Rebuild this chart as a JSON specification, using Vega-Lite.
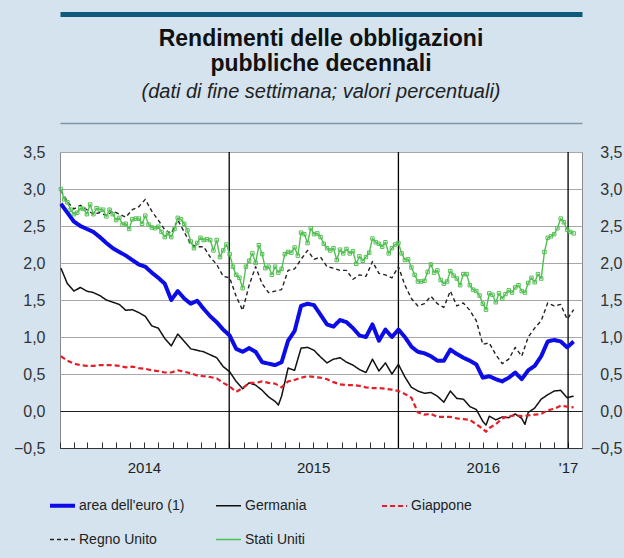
{
  "$schema": "https://vega.github.io/schema/vega-lite/v6.json",
  "width": 522,
  "height": 296,
  "autosize": "none",
  "padding": {"left": 60, "top": 152, "right": 42, "bottom": 110},
  "background": "#d4e3ee",
  "config": {
    "font": "Liberation Sans",
    "view": {"fill": "#ffffff", "stroke": "#8a8a8a", "strokeWidth": 1}
  },
  "title": {
    "text": ["Rendimenti delle obbligazioni", "pubbliche decennali"],
    "subtitle": "(dati di fine settimana; valori percentuali)",
    "anchor": "middle",
    "frame": "group",
    "fontSize": 23,
    "fontWeight": "bold",
    "color": "#111111",
    "lineHeight": 25,
    "subtitleFontSize": 20,
    "subtitleFontStyle": "italic",
    "subtitleColor": "#222222",
    "subtitlePadding": 6,
    "offset": -88
  },
  "datasets": {
    "yrs": [{"d": "2015-01-01"}, {"d": "2016-01-01"}, {"d": "2017-01-01"}]
  },
  "data": {"values": [
    {"s":"de","d":"2014-01-03","v":1.93},{"s":"de","d":"2014-01-17","v":1.72},{"s":"de","d":"2014-01-31","v":1.62},{"s":"de","d":"2014-02-14","v":1.67},{"s":"de","d":"2014-02-28","v":1.62},{"s":"de","d":"2014-03-14","v":1.60},{"s":"de","d":"2014-03-28","v":1.56},{"s":"de","d":"2014-04-11","v":1.50},{"s":"de","d":"2014-04-25","v":1.47},{"s":"de","d":"2014-05-09","v":1.44},{"s":"de","d":"2014-05-23","v":1.36},{"s":"de","d":"2014-06-06","v":1.37},{"s":"de","d":"2014-06-20","v":1.33},{"s":"de","d":"2014-07-04","v":1.28},{"s":"de","d":"2014-07-18","v":1.15},{"s":"de","d":"2014-08-01","v":1.12},{"s":"de","d":"2014-08-15","v":0.98},{"s":"de","d":"2014-08-29","v":0.88},{"s":"de","d":"2014-09-12","v":1.04},{"s":"de","d":"2014-09-26","v":0.94},{"s":"de","d":"2014-10-10","v":0.84},{"s":"de","d":"2014-10-24","v":0.82},{"s":"de","d":"2014-11-07","v":0.80},{"s":"de","d":"2014-11-21","v":0.76},{"s":"de","d":"2014-12-05","v":0.72},{"s":"de","d":"2014-12-19","v":0.60},
    {"s":"de","d":"2015-01-02","v":0.53},{"s":"de","d":"2015-01-16","v":0.40},{"s":"de","d":"2015-01-30","v":0.30},{"s":"de","d":"2015-02-13","v":0.38},{"s":"de","d":"2015-02-27","v":0.35},{"s":"de","d":"2015-03-13","v":0.28},{"s":"de","d":"2015-03-27","v":0.19},{"s":"de","d":"2015-04-10","v":0.13},{"s":"de","d":"2015-04-17","v":0.08},{"s":"de","d":"2015-04-24","v":0.20},{"s":"de","d":"2015-05-08","v":0.58},{"s":"de","d":"2015-05-22","v":0.55},{"s":"de","d":"2015-06-05","v":0.85},{"s":"de","d":"2015-06-19","v":0.86},{"s":"de","d":"2015-07-03","v":0.82},{"s":"de","d":"2015-07-17","v":0.73},{"s":"de","d":"2015-07-31","v":0.65},{"s":"de","d":"2015-08-14","v":0.70},{"s":"de","d":"2015-08-28","v":0.72},{"s":"de","d":"2015-09-11","v":0.66},{"s":"de","d":"2015-09-25","v":0.62},{"s":"de","d":"2015-10-09","v":0.56},{"s":"de","d":"2015-10-23","v":0.52},{"s":"de","d":"2015-11-06","v":0.70},{"s":"de","d":"2015-11-20","v":0.54},{"s":"de","d":"2015-12-04","v":0.65},{"s":"de","d":"2015-12-18","v":0.50},
    {"s":"de","d":"2016-01-01","v":0.63},{"s":"de","d":"2016-01-15","v":0.46},{"s":"de","d":"2016-01-29","v":0.32},{"s":"de","d":"2016-02-12","v":0.27},{"s":"de","d":"2016-02-26","v":0.24},{"s":"de","d":"2016-03-11","v":0.25},{"s":"de","d":"2016-03-25","v":0.20},{"s":"de","d":"2016-04-08","v":0.12},{"s":"de","d":"2016-04-22","v":0.27},{"s":"de","d":"2016-05-06","v":0.17},{"s":"de","d":"2016-05-20","v":0.16},{"s":"de","d":"2016-06-03","v":0.06},{"s":"de","d":"2016-06-17","v":0.02},{"s":"de","d":"2016-07-01","v":-0.14},{"s":"de","d":"2016-07-08","v":-0.19},{"s":"de","d":"2016-07-15","v":-0.07},{"s":"de","d":"2016-07-29","v":-0.12},{"s":"de","d":"2016-08-12","v":-0.08},{"s":"de","d":"2016-08-26","v":-0.09},{"s":"de","d":"2016-09-09","v":-0.04},{"s":"de","d":"2016-09-23","v":-0.10},{"s":"de","d":"2016-09-30","v":-0.18},{"s":"de","d":"2016-10-07","v":-0.02},{"s":"de","d":"2016-10-21","v":0.04},{"s":"de","d":"2016-11-04","v":0.16},{"s":"de","d":"2016-11-18","v":0.22},{"s":"de","d":"2016-12-02","v":0.27},{"s":"de","d":"2016-12-16","v":0.28},{"s":"de","d":"2016-12-30","v":0.18},{"s":"de","d":"2017-01-13","v":0.20},

    {"s":"jp","d":"2014-01-03","v":0.74},{"s":"jp","d":"2014-01-17","v":0.68},{"s":"jp","d":"2014-01-31","v":0.64},{"s":"jp","d":"2014-02-14","v":0.62},{"s":"jp","d":"2014-02-28","v":0.61},{"s":"jp","d":"2014-03-14","v":0.61},{"s":"jp","d":"2014-03-28","v":0.62},{"s":"jp","d":"2014-04-11","v":0.62},{"s":"jp","d":"2014-04-25","v":0.62},{"s":"jp","d":"2014-05-09","v":0.61},{"s":"jp","d":"2014-05-23","v":0.59},{"s":"jp","d":"2014-06-06","v":0.60},{"s":"jp","d":"2014-06-20","v":0.58},{"s":"jp","d":"2014-07-04","v":0.57},{"s":"jp","d":"2014-07-18","v":0.55},{"s":"jp","d":"2014-08-01","v":0.54},{"s":"jp","d":"2014-08-15","v":0.52},{"s":"jp","d":"2014-08-29","v":0.52},{"s":"jp","d":"2014-09-12","v":0.55},{"s":"jp","d":"2014-09-26","v":0.53},{"s":"jp","d":"2014-10-10","v":0.51},{"s":"jp","d":"2014-10-24","v":0.48},{"s":"jp","d":"2014-11-07","v":0.47},{"s":"jp","d":"2014-11-21","v":0.46},{"s":"jp","d":"2014-12-05","v":0.44},{"s":"jp","d":"2014-12-19","v":0.38},
    {"s":"jp","d":"2015-01-02","v":0.33},{"s":"jp","d":"2015-01-16","v":0.26},{"s":"jp","d":"2015-01-30","v":0.31},{"s":"jp","d":"2015-02-13","v":0.38},{"s":"jp","d":"2015-02-27","v":0.38},{"s":"jp","d":"2015-03-13","v":0.40},{"s":"jp","d":"2015-03-27","v":0.38},{"s":"jp","d":"2015-04-10","v":0.37},{"s":"jp","d":"2015-04-24","v":0.32},{"s":"jp","d":"2015-05-08","v":0.40},{"s":"jp","d":"2015-05-22","v":0.42},{"s":"jp","d":"2015-06-05","v":0.45},{"s":"jp","d":"2015-06-19","v":0.47},{"s":"jp","d":"2015-07-03","v":0.46},{"s":"jp","d":"2015-07-17","v":0.45},{"s":"jp","d":"2015-07-31","v":0.43},{"s":"jp","d":"2015-08-14","v":0.39},{"s":"jp","d":"2015-08-28","v":0.36},{"s":"jp","d":"2015-09-11","v":0.35},{"s":"jp","d":"2015-09-25","v":0.35},{"s":"jp","d":"2015-10-09","v":0.34},{"s":"jp","d":"2015-10-23","v":0.32},{"s":"jp","d":"2015-11-06","v":0.31},{"s":"jp","d":"2015-11-20","v":0.31},{"s":"jp","d":"2015-12-04","v":0.30},{"s":"jp","d":"2015-12-18","v":0.29},
    {"s":"jp","d":"2016-01-01","v":0.27},{"s":"jp","d":"2016-01-15","v":0.23},{"s":"jp","d":"2016-01-29","v":0.18},{"s":"jp","d":"2016-02-12","v":-0.02},{"s":"jp","d":"2016-02-26","v":-0.05},{"s":"jp","d":"2016-03-11","v":-0.04},{"s":"jp","d":"2016-03-25","v":-0.08},{"s":"jp","d":"2016-04-08","v":-0.08},{"s":"jp","d":"2016-04-22","v":-0.08},{"s":"jp","d":"2016-05-06","v":-0.10},{"s":"jp","d":"2016-05-20","v":-0.11},{"s":"jp","d":"2016-06-03","v":-0.12},{"s":"jp","d":"2016-06-17","v":-0.18},{"s":"jp","d":"2016-07-01","v":-0.24},{"s":"jp","d":"2016-07-08","v":-0.28},{"s":"jp","d":"2016-07-15","v":-0.23},{"s":"jp","d":"2016-07-29","v":-0.18},{"s":"jp","d":"2016-08-12","v":-0.10},{"s":"jp","d":"2016-08-26","v":-0.07},{"s":"jp","d":"2016-09-09","v":-0.06},{"s":"jp","d":"2016-09-23","v":-0.07},{"s":"jp","d":"2016-10-07","v":-0.06},{"s":"jp","d":"2016-10-21","v":-0.05},{"s":"jp","d":"2016-11-04","v":-0.04},{"s":"jp","d":"2016-11-18","v":0.01},{"s":"jp","d":"2016-12-02","v":0.03},{"s":"jp","d":"2016-12-16","v":0.07},{"s":"jp","d":"2016-12-30","v":0.06},{"s":"jp","d":"2017-01-13","v":0.05},

    {"s":"uk","d":"2014-01-03","v":2.98},{"s":"uk","d":"2014-01-17","v":2.83},{"s":"uk","d":"2014-01-31","v":2.73},{"s":"uk","d":"2014-02-14","v":2.78},{"s":"uk","d":"2014-02-28","v":2.72},{"s":"uk","d":"2014-03-14","v":2.66},{"s":"uk","d":"2014-03-28","v":2.68},{"s":"uk","d":"2014-04-11","v":2.64},{"s":"uk","d":"2014-04-25","v":2.70},{"s":"uk","d":"2014-05-09","v":2.66},{"s":"uk","d":"2014-05-23","v":2.62},{"s":"uk","d":"2014-06-06","v":2.72},{"s":"uk","d":"2014-06-20","v":2.76},{"s":"uk","d":"2014-07-04","v":2.86},{"s":"uk","d":"2014-07-18","v":2.70},{"s":"uk","d":"2014-08-01","v":2.58},{"s":"uk","d":"2014-08-15","v":2.45},{"s":"uk","d":"2014-08-29","v":2.40},{"s":"uk","d":"2014-09-12","v":2.58},{"s":"uk","d":"2014-09-26","v":2.42},{"s":"uk","d":"2014-10-10","v":2.25},{"s":"uk","d":"2014-10-24","v":2.22},{"s":"uk","d":"2014-11-07","v":2.22},{"s":"uk","d":"2014-11-21","v":2.08},{"s":"uk","d":"2014-12-05","v":1.98},{"s":"uk","d":"2014-12-19","v":1.82},
    {"s":"uk","d":"2015-01-02","v":1.80},{"s":"uk","d":"2015-01-16","v":1.55},{"s":"uk","d":"2015-01-30","v":1.36},{"s":"uk","d":"2015-02-13","v":1.70},{"s":"uk","d":"2015-02-27","v":1.95},{"s":"uk","d":"2015-03-13","v":1.72},{"s":"uk","d":"2015-03-27","v":1.60},{"s":"uk","d":"2015-04-10","v":1.62},{"s":"uk","d":"2015-04-24","v":1.64},{"s":"uk","d":"2015-05-08","v":1.90},{"s":"uk","d":"2015-05-22","v":1.92},{"s":"uk","d":"2015-06-05","v":2.05},{"s":"uk","d":"2015-06-19","v":2.17},{"s":"uk","d":"2015-07-03","v":2.05},{"s":"uk","d":"2015-07-17","v":2.08},{"s":"uk","d":"2015-07-31","v":1.95},{"s":"uk","d":"2015-08-14","v":1.93},{"s":"uk","d":"2015-08-28","v":1.90},{"s":"uk","d":"2015-09-11","v":1.90},{"s":"uk","d":"2015-09-25","v":1.78},{"s":"uk","d":"2015-10-09","v":1.84},{"s":"uk","d":"2015-10-23","v":1.82},{"s":"uk","d":"2015-11-06","v":2.02},{"s":"uk","d":"2015-11-20","v":1.86},{"s":"uk","d":"2015-12-04","v":1.84},{"s":"uk","d":"2015-12-18","v":1.80},
    {"s":"uk","d":"2016-01-01","v":1.95},{"s":"uk","d":"2016-01-15","v":1.70},{"s":"uk","d":"2016-01-29","v":1.52},{"s":"uk","d":"2016-02-12","v":1.42},{"s":"uk","d":"2016-02-26","v":1.45},{"s":"uk","d":"2016-03-11","v":1.55},{"s":"uk","d":"2016-03-25","v":1.45},{"s":"uk","d":"2016-04-08","v":1.40},{"s":"uk","d":"2016-04-22","v":1.62},{"s":"uk","d":"2016-05-06","v":1.42},{"s":"uk","d":"2016-05-20","v":1.46},{"s":"uk","d":"2016-06-03","v":1.36},{"s":"uk","d":"2016-06-17","v":1.22},{"s":"uk","d":"2016-07-01","v":0.90},{"s":"uk","d":"2016-07-15","v":0.92},{"s":"uk","d":"2016-07-29","v":0.76},{"s":"uk","d":"2016-08-12","v":0.64},{"s":"uk","d":"2016-08-26","v":0.70},{"s":"uk","d":"2016-09-09","v":0.86},{"s":"uk","d":"2016-09-23","v":0.74},{"s":"uk","d":"2016-10-07","v":1.00},{"s":"uk","d":"2016-10-21","v":1.12},{"s":"uk","d":"2016-11-04","v":1.22},{"s":"uk","d":"2016-11-18","v":1.46},{"s":"uk","d":"2016-12-02","v":1.42},{"s":"uk","d":"2016-12-16","v":1.44},{"s":"uk","d":"2016-12-30","v":1.24},{"s":"uk","d":"2017-01-13","v":1.37},

    {"s":"ea","d":"2014-01-03","v":2.80},{"s":"ea","d":"2014-01-17","v":2.68},{"s":"ea","d":"2014-01-31","v":2.56},{"s":"ea","d":"2014-02-14","v":2.50},{"s":"ea","d":"2014-02-28","v":2.46},{"s":"ea","d":"2014-03-14","v":2.42},{"s":"ea","d":"2014-03-28","v":2.35},{"s":"ea","d":"2014-04-11","v":2.27},{"s":"ea","d":"2014-04-25","v":2.20},{"s":"ea","d":"2014-05-09","v":2.15},{"s":"ea","d":"2014-05-23","v":2.10},{"s":"ea","d":"2014-06-06","v":2.04},{"s":"ea","d":"2014-06-20","v":1.98},{"s":"ea","d":"2014-07-04","v":1.95},{"s":"ea","d":"2014-07-18","v":1.87},{"s":"ea","d":"2014-08-01","v":1.80},{"s":"ea","d":"2014-08-15","v":1.72},{"s":"ea","d":"2014-08-29","v":1.50},{"s":"ea","d":"2014-09-12","v":1.62},{"s":"ea","d":"2014-09-26","v":1.52},{"s":"ea","d":"2014-10-10","v":1.45},{"s":"ea","d":"2014-10-24","v":1.49},{"s":"ea","d":"2014-11-07","v":1.38},{"s":"ea","d":"2014-11-21","v":1.28},{"s":"ea","d":"2014-12-05","v":1.20},{"s":"ea","d":"2014-12-19","v":1.10},
    {"s":"ea","d":"2015-01-02","v":1.02},{"s":"ea","d":"2015-01-16","v":0.84},{"s":"ea","d":"2015-01-30","v":0.80},{"s":"ea","d":"2015-02-13","v":0.85},{"s":"ea","d":"2015-02-27","v":0.80},{"s":"ea","d":"2015-03-13","v":0.66},{"s":"ea","d":"2015-03-27","v":0.64},{"s":"ea","d":"2015-04-10","v":0.62},{"s":"ea","d":"2015-04-24","v":0.66},{"s":"ea","d":"2015-05-08","v":0.95},{"s":"ea","d":"2015-05-22","v":1.08},{"s":"ea","d":"2015-06-05","v":1.42},{"s":"ea","d":"2015-06-19","v":1.45},{"s":"ea","d":"2015-07-03","v":1.43},{"s":"ea","d":"2015-07-17","v":1.30},{"s":"ea","d":"2015-07-31","v":1.17},{"s":"ea","d":"2015-08-14","v":1.14},{"s":"ea","d":"2015-08-28","v":1.23},{"s":"ea","d":"2015-09-11","v":1.20},{"s":"ea","d":"2015-09-25","v":1.12},{"s":"ea","d":"2015-10-09","v":1.02},{"s":"ea","d":"2015-10-23","v":1.00},{"s":"ea","d":"2015-11-06","v":1.17},{"s":"ea","d":"2015-11-20","v":0.95},{"s":"ea","d":"2015-12-04","v":1.10},{"s":"ea","d":"2015-12-18","v":1.00},
    {"s":"ea","d":"2016-01-01","v":1.10},{"s":"ea","d":"2016-01-15","v":1.00},{"s":"ea","d":"2016-01-29","v":0.87},{"s":"ea","d":"2016-02-12","v":0.80},{"s":"ea","d":"2016-02-26","v":0.78},{"s":"ea","d":"2016-03-11","v":0.74},{"s":"ea","d":"2016-03-25","v":0.68},{"s":"ea","d":"2016-04-08","v":0.68},{"s":"ea","d":"2016-04-22","v":0.83},{"s":"ea","d":"2016-05-06","v":0.77},{"s":"ea","d":"2016-05-20","v":0.72},{"s":"ea","d":"2016-06-03","v":0.68},{"s":"ea","d":"2016-06-17","v":0.63},{"s":"ea","d":"2016-07-01","v":0.45},{"s":"ea","d":"2016-07-15","v":0.47},{"s":"ea","d":"2016-07-29","v":0.43},{"s":"ea","d":"2016-08-12","v":0.40},{"s":"ea","d":"2016-08-26","v":0.45},{"s":"ea","d":"2016-09-09","v":0.52},{"s":"ea","d":"2016-09-23","v":0.43},{"s":"ea","d":"2016-10-07","v":0.55},{"s":"ea","d":"2016-10-21","v":0.61},{"s":"ea","d":"2016-11-04","v":0.74},{"s":"ea","d":"2016-11-18","v":0.94},{"s":"ea","d":"2016-12-02","v":0.96},{"s":"ea","d":"2016-12-16","v":0.94},{"s":"ea","d":"2016-12-30","v":0.86},{"s":"ea","d":"2017-01-13","v":0.94},

    {"s":"us","d":"2014-01-03","v":3.00},{"s":"us","d":"2014-01-10","v":2.86},{"s":"us","d":"2014-01-17","v":2.82},{"s":"us","d":"2014-01-24","v":2.72},{"s":"us","d":"2014-01-31","v":2.66},{"s":"us","d":"2014-02-07","v":2.68},{"s":"us","d":"2014-02-14","v":2.74},{"s":"us","d":"2014-02-21","v":2.73},{"s":"us","d":"2014-02-28","v":2.66},{"s":"us","d":"2014-03-07","v":2.79},{"s":"us","d":"2014-03-14","v":2.66},{"s":"us","d":"2014-03-21","v":2.74},{"s":"us","d":"2014-03-28","v":2.72},{"s":"us","d":"2014-04-04","v":2.72},{"s":"us","d":"2014-04-11","v":2.63},{"s":"us","d":"2014-04-18","v":2.72},{"s":"us","d":"2014-04-25","v":2.66},{"s":"us","d":"2014-05-02","v":2.58},{"s":"us","d":"2014-05-09","v":2.61},{"s":"us","d":"2014-05-16","v":2.52},{"s":"us","d":"2014-05-23","v":2.53},{"s":"us","d":"2014-05-30","v":2.46},{"s":"us","d":"2014-06-06","v":2.59},{"s":"us","d":"2014-06-13","v":2.60},{"s":"us","d":"2014-06-20","v":2.60},{"s":"us","d":"2014-06-27","v":2.53},{"s":"us","d":"2014-07-04","v":2.64},{"s":"us","d":"2014-07-11","v":2.52},{"s":"us","d":"2014-07-18","v":2.48},{"s":"us","d":"2014-07-25","v":2.47},{"s":"us","d":"2014-08-01","v":2.49},{"s":"us","d":"2014-08-08","v":2.42},{"s":"us","d":"2014-08-15","v":2.35},{"s":"us","d":"2014-08-22","v":2.40},{"s":"us","d":"2014-08-29","v":2.35},{"s":"us","d":"2014-09-05","v":2.46},{"s":"us","d":"2014-09-12","v":2.61},{"s":"us","d":"2014-09-19","v":2.59},{"s":"us","d":"2014-09-26","v":2.53},{"s":"us","d":"2014-10-03","v":2.44},{"s":"us","d":"2014-10-10","v":2.29},{"s":"us","d":"2014-10-17","v":2.20},{"s":"us","d":"2014-10-24","v":2.27},{"s":"us","d":"2014-10-31","v":2.34},{"s":"us","d":"2014-11-07","v":2.31},{"s":"us","d":"2014-11-14","v":2.32},{"s":"us","d":"2014-11-21","v":2.31},{"s":"us","d":"2014-11-28","v":2.17},{"s":"us","d":"2014-12-05","v":2.31},{"s":"us","d":"2014-12-12","v":2.08},{"s":"us","d":"2014-12-19","v":2.17},{"s":"us","d":"2014-12-26","v":2.25},
    {"s":"us","d":"2015-01-02","v":2.12},{"s":"us","d":"2015-01-09","v":1.95},{"s":"us","d":"2015-01-16","v":1.84},{"s":"us","d":"2015-01-23","v":1.80},{"s":"us","d":"2015-01-30","v":1.66},{"s":"us","d":"2015-02-06","v":1.95},{"s":"us","d":"2015-02-13","v":2.03},{"s":"us","d":"2015-02-20","v":2.13},{"s":"us","d":"2015-02-27","v":2.00},{"s":"us","d":"2015-03-06","v":2.24},{"s":"us","d":"2015-03-13","v":2.12},{"s":"us","d":"2015-03-20","v":1.93},{"s":"us","d":"2015-03-27","v":1.95},{"s":"us","d":"2015-04-03","v":1.84},{"s":"us","d":"2015-04-10","v":1.95},{"s":"us","d":"2015-04-17","v":1.87},{"s":"us","d":"2015-04-24","v":1.92},{"s":"us","d":"2015-05-01","v":2.12},{"s":"us","d":"2015-05-08","v":2.15},{"s":"us","d":"2015-05-15","v":2.14},{"s":"us","d":"2015-05-22","v":2.21},{"s":"us","d":"2015-05-29","v":2.10},{"s":"us","d":"2015-06-05","v":2.41},{"s":"us","d":"2015-06-12","v":2.39},{"s":"us","d":"2015-06-19","v":2.27},{"s":"us","d":"2015-06-26","v":2.47},{"s":"us","d":"2015-07-03","v":2.39},{"s":"us","d":"2015-07-10","v":2.40},{"s":"us","d":"2015-07-17","v":2.35},{"s":"us","d":"2015-07-24","v":2.26},{"s":"us","d":"2015-07-31","v":2.20},{"s":"us","d":"2015-08-07","v":2.17},{"s":"us","d":"2015-08-14","v":2.20},{"s":"us","d":"2015-08-21","v":2.04},{"s":"us","d":"2015-08-28","v":2.18},{"s":"us","d":"2015-09-04","v":2.13},{"s":"us","d":"2015-09-11","v":2.19},{"s":"us","d":"2015-09-18","v":2.13},{"s":"us","d":"2015-09-25","v":2.16},{"s":"us","d":"2015-10-02","v":1.99},{"s":"us","d":"2015-10-09","v":2.09},{"s":"us","d":"2015-10-16","v":2.03},{"s":"us","d":"2015-10-23","v":2.08},{"s":"us","d":"2015-10-30","v":2.14},{"s":"us","d":"2015-11-06","v":2.33},{"s":"us","d":"2015-11-13","v":2.28},{"s":"us","d":"2015-11-20","v":2.26},{"s":"us","d":"2015-11-27","v":2.22},{"s":"us","d":"2015-12-04","v":2.28},{"s":"us","d":"2015-12-11","v":2.13},{"s":"us","d":"2015-12-18","v":2.20},{"s":"us","d":"2015-12-25","v":2.25},
    {"s":"us","d":"2016-01-01","v":2.27},{"s":"us","d":"2016-01-08","v":2.13},{"s":"us","d":"2016-01-15","v":2.04},{"s":"us","d":"2016-01-22","v":2.05},{"s":"us","d":"2016-01-29","v":1.94},{"s":"us","d":"2016-02-05","v":1.84},{"s":"us","d":"2016-02-12","v":1.75},{"s":"us","d":"2016-02-19","v":1.75},{"s":"us","d":"2016-02-26","v":1.76},{"s":"us","d":"2016-03-04","v":1.88},{"s":"us","d":"2016-03-11","v":1.98},{"s":"us","d":"2016-03-18","v":1.87},{"s":"us","d":"2016-03-25","v":1.90},{"s":"us","d":"2016-04-01","v":1.77},{"s":"us","d":"2016-04-08","v":1.72},{"s":"us","d":"2016-04-15","v":1.75},{"s":"us","d":"2016-04-22","v":1.89},{"s":"us","d":"2016-04-29","v":1.83},{"s":"us","d":"2016-05-06","v":1.79},{"s":"us","d":"2016-05-13","v":1.70},{"s":"us","d":"2016-05-20","v":1.85},{"s":"us","d":"2016-05-27","v":1.85},{"s":"us","d":"2016-06-03","v":1.70},{"s":"us","d":"2016-06-10","v":1.64},{"s":"us","d":"2016-06-17","v":1.62},{"s":"us","d":"2016-06-24","v":1.56},{"s":"us","d":"2016-07-01","v":1.45},{"s":"us","d":"2016-07-08","v":1.37},{"s":"us","d":"2016-07-15","v":1.59},{"s":"us","d":"2016-07-22","v":1.57},{"s":"us","d":"2016-07-29","v":1.47},{"s":"us","d":"2016-08-05","v":1.59},{"s":"us","d":"2016-08-12","v":1.52},{"s":"us","d":"2016-08-19","v":1.58},{"s":"us","d":"2016-08-26","v":1.63},{"s":"us","d":"2016-09-02","v":1.60},{"s":"us","d":"2016-09-09","v":1.67},{"s":"us","d":"2016-09-16","v":1.70},{"s":"us","d":"2016-09-23","v":1.62},{"s":"us","d":"2016-09-30","v":1.60},{"s":"us","d":"2016-10-07","v":1.73},{"s":"us","d":"2016-10-14","v":1.80},{"s":"us","d":"2016-10-21","v":1.74},{"s":"us","d":"2016-10-28","v":1.85},{"s":"us","d":"2016-11-04","v":1.79},{"s":"us","d":"2016-11-11","v":2.15},{"s":"us","d":"2016-11-18","v":2.34},{"s":"us","d":"2016-11-25","v":2.36},{"s":"us","d":"2016-12-02","v":2.39},{"s":"us","d":"2016-12-09","v":2.47},{"s":"us","d":"2016-12-16","v":2.60},{"s":"us","d":"2016-12-23","v":2.55},{"s":"us","d":"2016-12-30","v":2.45},{"s":"us","d":"2017-01-06","v":2.42},{"s":"us","d":"2017-01-13","v":2.40}
  ]},
  "layer": [
    {
      "data": {"name": "yrs"},
      "mark": {"type": "rule", "color": "#000000", "strokeWidth": 1.3},
      "encoding": {
        "x": {
          "field": "d", "type": "temporal",
          "axis": {
            "orient": "top", "offset": 29, "title": null, "labels": false, "ticks": false, "grid": false,
            "domain": true, "domainColor": "#7f95a6", "domainWidth": 1.5
          }
        }
      }
    },
    {
      "mark": {"type": "line", "strokeJoin": "round"},
      "encoding": {
        "x": {
          "field": "d", "type": "temporal",
          "scale": {"type": "utc", "domain": [{"year": 2014, "month": 1, "date": 1, "utc": true}, {"year": 2017, "month": 1, "date": 31, "utc": true}]},
          "axis": {
            "orient": "bottom",
            "title": null,
            "tickCount": {"interval": "month", "step": 1},
            "labelExpr": "utcmonth(datum.value)==6 ? ''+utcyear(datum.value) : ((utcyear(datum.value)==2017 && utcmonth(datum.value)==0) ? \"'17\" : '')",
            "labelOverlap": false,
            "labelFlush": false,
            "labelBound": false,
            "labelFontSize": 15,
            "labelColor": "#222222",
            "labelPadding": 18,
            "tickSize": -6,
            "tickColor": "#333333",
            "tickWidth": 1,
            "domainColor": "#333333",
            "domainWidth": 1,
            "grid": false
          }
        },
        "y": {
          "field": "v", "type": "quantitative",
          "scale": {"domain": [-0.5, 3.5], "nice": false, "zero": false},
          "axis": {
            "title": null,
            "values": [-0.5, 0, 0.5, 1, 1.5, 2, 2.5, 3, 3.5],
            "labelExpr": "replace(format(datum.value, '.1f'), '.', ',')",
            "ticks": false,
            "domain": false,
            "labelPadding": 15,
            "labelFontSize": 16,
            "labelColor": "#333333",
            "grid": true,
            "gridColor": {"condition": {"test": "datum.value==0", "value": "#222222"}, "value": "#a8a8a8"},
            "gridWidth": 1.2
          }
        },
        "color": {
          "field": "s", "type": "nominal",
          "scale": {"domain": ["ea", "de", "jp", "uk", "us"], "range": ["#0c0ce6", "#111111", "#e3202a", "#222222", "#52bf52"]},
          "legend": {
            "title": null, "orient": "none", "legendX": -12, "legendY": 339,
            "direction": "horizontal", "columns": 3, "columnPadding": 26, "rowPadding": 12,
            "gridAlign": "all", "symbolType": "stroke", "symbolSize": 625,
            "labelFontSize": 14, "labelColor": "#222222", "labelOffset": 2,
            "labelExpr": "datum.label=='ea' ? \"area dell'euro (1)\" : (datum.label=='de' ? 'Germania' : (datum.label=='jp' ? 'Giappone' : (datum.label=='uk' ? 'Regno Unito' : 'Stati Uniti')))"
          }
        },
        "strokeDash": {
          "field": "s", "type": "nominal",
          "scale": {"domain": ["ea", "de", "jp", "uk", "us"], "range": [[1, 0], [1, 0], [5, 3], [4, 3], [1, 0]]},
          "legend": {
            "title": null, "orient": "none", "legendX": -12, "legendY": 339,
            "direction": "horizontal", "columns": 3, "columnPadding": 26, "rowPadding": 12,
            "gridAlign": "all", "symbolType": "stroke", "symbolSize": 625,
            "labelFontSize": 14, "labelColor": "#222222", "labelOffset": 2,
            "labelExpr": "datum.label=='ea' ? \"area dell'euro (1)\" : (datum.label=='de' ? 'Germania' : (datum.label=='jp' ? 'Giappone' : (datum.label=='uk' ? 'Regno Unito' : 'Stati Uniti')))"
          }
        },
        "strokeWidth": {
          "field": "s", "type": "nominal",
          "scale": {"type": "ordinal", "domain": ["ea", "de", "jp", "uk", "us"], "range": [4, 1.5, 2.2, 1.4, 1.4]},
          "legend": {
            "title": null, "orient": "none", "legendX": -12, "legendY": 339,
            "direction": "horizontal", "columns": 3, "columnPadding": 26, "rowPadding": 12,
            "gridAlign": "all", "symbolType": "stroke", "symbolSize": 625,
            "labelFontSize": 14, "labelColor": "#222222", "labelOffset": 2,
            "labelExpr": "datum.label=='ea' ? \"area dell'euro (1)\" : (datum.label=='de' ? 'Germania' : (datum.label=='jp' ? 'Giappone' : (datum.label=='uk' ? 'Regno Unito' : 'Stati Uniti')))"
          }
        }
      }
    },
    {
      "transform": [{"filter": "datum.s=='us'"}],
      "mark": {"type": "point", "shape": "square", "filled": false, "size": 12, "strokeWidth": 1, "color": "#52bf52", "opacity": 1},
      "encoding": {
        "x": {
          "field": "d", "type": "temporal",
          "axis": {
            "orient": "top", "offset": 138, "title": null, "labels": false, "ticks": false, "grid": false,
            "domain": true, "domainColor": "#0f5a7c", "domainWidth": 5
          }
        },
        "y": {
          "field": "v", "type": "quantitative",
          "axis": {
            "orient": "right",
            "title": null,
            "values": [-0.5, 0, 0.5, 1, 1.5, 2, 2.5, 3, 3.5],
            "labelExpr": "replace(format(datum.value, '.1f'), '.', ',')",
            "labelAlign": "right",
            "ticks": false,
            "domain": false,
            "grid": false,
            "labelPadding": 40,
            "labelFontSize": 16,
            "labelColor": "#333333"
          }
        }
      }
    }
  ],
  "resolve": {"axis": {"x": "independent", "y": "independent"}}
}
